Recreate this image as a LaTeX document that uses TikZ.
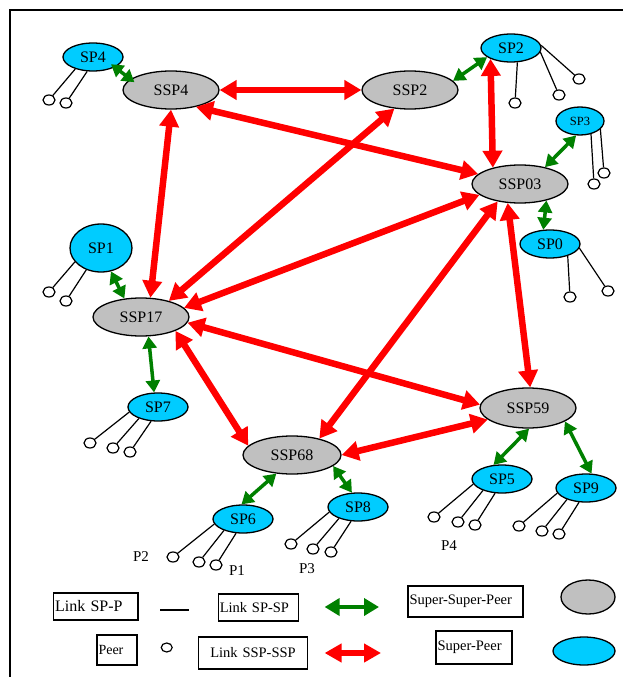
\documentclass[tikz,border=0pt]{standalone}
\usepackage{fontspec}
\setmainfont{Liberation Serif}
\usetikzlibrary{shapes.geometric,arrows.meta}
\definecolor{spblue}{RGB}{0,204,255}
\definecolor{sspgray}{RGB}{192,192,192}
\definecolor{linkgreen}{RGB}{0,128,0}
\tikzset{
  ssp/.style={ellipse,draw,line width=1.3pt,fill=sspgray,minimum width=96pt,minimum height=38pt,inner sep=0pt,font=\fontsize{16}{18}\selectfont},
  sp/.style={ellipse,draw,line width=1.3pt,fill=spblue,minimum width=60pt,minimum height=28pt,inner sep=0pt,font=\fontsize{16}{18}\selectfont},
  peer/.style={ellipse,draw,line width=1.2pt,minimum width=12pt,minimum height=10pt,inner sep=0pt},
  plink/.style={line width=1.2pt},
  splink/.style={color=linkgreen,line width=3.5pt,>={Triangle[length=12pt,width=14pt]},<->},
  ssplink/.style={color=red,line width=6.5pt,>={Triangle[length=17pt,width=19pt]},<->},
  legbox/.style={draw,line width=1.3pt,inner xsep=1.5pt,inner ysep=0pt,align=left,font=\fontsize{14.5}{16}\selectfont},
  plabel/.style={font=\fontsize{15}{17}\selectfont}
}
\begin{document}
\begin{tikzpicture}[x=1pt,y=-1pt]
  \useasboundingbox (0,0) rectangle (623,677);
  \draw[line width=2.5pt] (10,677) -- (10,10) -- (623,10);

  % super-super-peers
  \node[ssp] (ssp4)  at (171,90)  {SSP4};
  \node[ssp] (ssp2)  at (410,90)  {SSP2};
  \node[ssp] (ssp03) at (520,184) {SSP03};
  \node[ssp] (ssp17) at (141,317) {SSP17};
  \node[ssp,minimum width=98pt] (ssp68) at (292,455) {SSP68};
  \node[ssp,minimum height=40pt] (ssp59) at (528,408) {SSP59};

  % super-peers
  \node[sp] (sp4) at (93,57)  {SP4};
  \node[sp] (sp2) at (511,48) {SP2};
  \node[sp,minimum width=48pt,font=\fontsize{12.5}{14}\selectfont] (sp3) at (580,121) {SP3};
  \node[sp] (sp0) at (550,244) {SP0};
  \node[sp,minimum width=62pt,minimum height=48pt] (sp1) at (101,248) {SP1};
  \node[sp] (sp7) at (158,407) {SP7};
  \node[sp] (sp6) at (243,519) {SP6};
  \node[sp] (sp8) at (358,507) {SP8};
  \node[sp] (sp5) at (502,479) {SP5};
  \node[sp] (sp9) at (586,488) {SP9};

  % peers, named after their super-peer
  \foreach \s/\k/\x/\y in {sp4/1/49/100, sp4/2/66/103,
      sp2/1/515/103, sp2/2/559/95, sp2/3/579/79,
      sp3/1/594/184, sp3/2/604/173,
      sp0/1/570/297, sp0/2/608/291,
      sp1/1/49/292, sp1/2/66/301,
      sp7/1/90/443, sp7/2/113/448, sp7/3/130/452,
      sp6/1/173/557, sp6/2/199/562, sp6/3/216/565,
      sp8/1/291/544, sp8/2/313/549, sp8/3/331/552,
      sp5/1/434/517, sp5/2/458/522, sp5/3/475/525,
      sp9/1/519/526, sp9/2/542/531, sp9/3/559/534}{% one peer
    \node[peer] (\s-\k) at (\x,\y) {};}

  % links SP-P
  \foreach \s/\k/\a in {sp4/1/-146, sp4/2/-112, sp2/1/-66, sp2/2/-8, sp2/3/5,
      sp3/1/-50, sp3/2/-22, sp0/1/-34, sp0/2/-8, sp1/1/-152, sp1/2/-124}{
    \draw[plink] (\s.\a) -- (\s-\k);}
  \foreach \s in {sp7,sp6,sp8,sp5,sp9}{% three peers each
    \foreach \k/\a in {1/-170,2/-149,3/-116}{
      \draw[plink] (\s.\a) -- (\s-\k);}}

  \node[plabel] (lp2) at (141,557) {P2};
  \node[plabel] (lp1) at (237,571) {P1};
  \node[plabel] (lp3) at (307,569) {P3};
  \node[plabel] (lp4) at (449,546) {P4};

  % links SP-SP
  \draw[splink,shorten <=-5pt,shorten >=-5pt] (sp4.-25) -- (ssp4.165);
  \draw[splink] (sp2.-159) -- (ssp2.12);
  \draw[splink] (sp3.-105) -- (ssp03.34);
  \draw[splink] (ssp03.-32) -- (sp0.115);
  \draw[splink] (sp1.-67) -- (ssp17.132);
  \draw[splink] (ssp17.-69) -- (sp7.105);
  \draw[splink] (ssp68.-130) -- (sp6.96);
  \draw[splink] (ssp68.-15) -- (sp8.113);
  \draw[splink] (ssp59.-87) -- (sp5.121);
  \draw[splink] (ssp59.-20) -- (sp9.69);

  % links SSP-SSP
  \draw[ssplink] (ssp4) -- (ssp2);
  \draw[ssplink] (ssp4.-34) -- (ssp03);
  \draw[ssplink] (ssp4.-90) -- (ssp17.64);
  \draw[ssplink] (ssp2.-130) -- (ssp17.30);
  \draw[ssplink] (sp2.-152) -- (ssp03.149);
  \draw[ssplink] (ssp03.-165) -- (ssp17.12);
  \draw[ssplink] (ssp03.-142) -- (ssp68.31);
  \draw[ssplink] (ssp03.-123) -- (ssp59.84);
  \draw[ssplink] (ssp17.-7) -- (ssp59.176);
  \draw[ssplink] (ssp17.-22) -- (ssp68.168);
  \draw[ssplink] (ssp68.0) -- (ssp59.-164);

  % legend
  \node[legbox,text width=81.5pt,minimum height=27pt,font=\fontsize{16}{18}\selectfont] (kspp) at (95.8,606.5) {Link SP-P};
  \coordinate (kla) at (160,610);
  \coordinate (klb) at (188.5,610);
  \draw[plink] (kla) -- (klb);
  \node[legbox,text width=77.5pt,minimum height=27pt] (kspsp) at (258.5,607.5) {Link SP-SP};
  \coordinate (kga) at (324.6,607);
  \coordinate (kgb) at (379,607);
  \draw[splink,line width=4pt,>={Triangle[length=15pt,width=17pt]}] (kga) -- (kgb);
  \node[legbox,text width=112pt,minimum height=31pt] (ksspt) at (465.5,601.5) {Super-Super-Peer};
  \node[ssp,minimum width=54pt,minimum height=34pt] (kssp) at (588,597) {};

  \node[legbox,text width=37pt,minimum height=30pt,font=\fontsize{14}{16}\selectfont] (kpeert) at (117,650) {Peer};
  \node[peer,minimum width=11pt,minimum height=9pt] (kpeer) at (166.7,647.5) {};
  \node[legbox,text width=106.6pt,align=center,minimum height=32pt] (ksspssp) at (253,653) {Link SSP-SSP};
  \coordinate (kra) at (324.6,653);
  \coordinate (krb) at (381,653);
  \draw[ssplink,>={Triangle[length=17pt,width=18pt]}] (kra) -- (krb);
  \node[legbox,text width=73pt,minimum height=33pt] (kspt) at (474,647.5) {Super-Peer};
  \node[sp,minimum width=62pt,minimum height=28pt] (ksp) at (584,651) {};
\end{tikzpicture}
\end{document}
